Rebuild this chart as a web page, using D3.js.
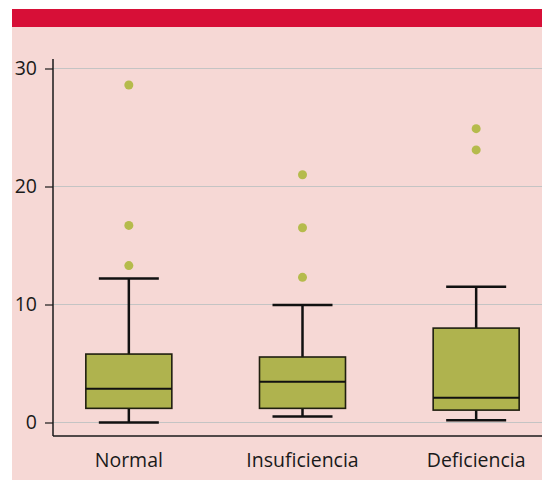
<!DOCTYPE html>
<html>
<head>
<meta charset="utf-8">
<script src="https://cdn.jsdelivr.net/npm/d3@7"></script>
<style>
  body { margin: 0; background: #fff; }
  svg text { font-family: "Open Sans", "Lato", sans-serif; fill: #1a1a1a; }
</style>
</head>
<body>
<div id="chart"></div>
<script>

// categories and box statistics
const categories = ["Normal", "Insuficiencia", "Deficiencia"];
const whiskerLow = [0, 0.5, 0.2];
const q1 = [1.2, 1.2, 1.05];
const medians = [2.85, 3.45, 2.1];
const q3 = [5.8, 5.55, 8.0];
const whiskerHigh = [12.2, 9.95, 11.5];
const outliers = [
    [13.3, 16.7, 28.6],
    [12.3, 16.5, 21.0],
    [23.1, 24.9]
];
const yTicks = [0, 10, 20, 30];

const W = 542, H = 480;

const svg = d3.select("#chart").append("svg")
    .attr("width", W)
    .attr("height", H);

// pink panel + red header bar
svg.append("rect")
    .attr("x", 12).attr("y", 9)
    .attr("width", W - 12).attr("height", H - 9)
    .attr("fill", "#f6d8d5");

svg.append("rect")
    .attr("x", 12).attr("y", 9)
    .attr("width", W - 12).attr("height", 18)
    .attr("fill", "#d70f37");

const margin = { left: 53, right: 0, top: 60, bottom: 44 };

const x = d3.scaleBand()
    .domain(categories)
    .range([42, 563])
    .paddingInner(0)
    .paddingOuter(0);

const y = d3.scaleLinear()
    .domain([0, 30])
    .range([422.5, 68.5]);

// gridlines
svg.append("g")
    .selectAll("line")
    .data(yTicks)
    .enter()
    .append("line")
    .attr("x1", margin.left)
    .attr("x2", W)
    .attr("y1", d => y(d))
    .attr("y2", d => y(d))
    .attr("stroke", "#c4c4c4")
    .attr("stroke-width", 1);

// y axis
const yAxis = d3.axisLeft(y)
    .tickValues(yTicks)
    .tickSize(8)
    .tickPadding(6);

const yg = svg.append("g")
    .attr("transform", "translate(" + margin.left + ",0)")
    .call(yAxis);

yg.select(".domain").remove();
yg.selectAll(".tick line").attr("stroke", "#1a1a1a").attr("stroke-width", 1.2);
yg.selectAll(".tick text")
    .attr("font-size", 19.5)
    .attr("fill", "#1a1a1a")
    .attr("x", -16)
    .attr("dy", "0.3em");

svg.append("line")
    .attr("x1", margin.left).attr("x2", margin.left)
    .attr("y1", 59).attr("y2", 436)
    .attr("stroke", "#1a1a1a")
    .attr("stroke-width", 1.5);

svg.append("line")
    .attr("x1", margin.left).attr("x2", W)
    .attr("y1", 436).attr("y2", 436)
    .attr("stroke", "#1a1a1a")
    .attr("stroke-width", 1.5);

// x labels
svg.append("g")
    .selectAll("text")
    .data(categories)
    .enter()
    .append("text")
    .attr("x", d => x(d) + x.bandwidth() / 2)
    .attr("y", 467)
    .attr("text-anchor", "middle")
    .attr("font-size", 19.5)
    .text(d => d);

const boxW = 86, capW = 60;

const groups = svg.append("g")
    .selectAll("g.box")
    .data(categories)
    .enter()
    .append("g")
    .attr("class", "box")
    .attr("transform", d => "translate(" + (x(d) + x.bandwidth() / 2) + ",0)");

// whisker stems
groups.append("line")
    .attr("x1", 0).attr("x2", 0)
    .attr("y1", (d, i) => y(whiskerLow[i]))
    .attr("y2", (d, i) => y(whiskerHigh[i]))
    .attr("stroke", "#111")
    .attr("stroke-width", 2.5);

// caps
[whiskerLow, whiskerHigh].forEach(arr => {
    groups.append("line")
        .attr("x1", -capW / 2).attr("x2", capW / 2)
        .attr("y1", (d, i) => y(arr[i]))
        .attr("y2", (d, i) => y(arr[i]))
        .attr("stroke", "#111")
        .attr("stroke-width", 2.5);
});

// boxes
groups.append("rect")
    .attr("x", -boxW / 2)
    .attr("width", boxW)
    .attr("y", (d, i) => y(q3[i]))
    .attr("height", (d, i) => y(q1[i]) - y(q3[i]))
    .attr("fill", "#afb34e")
    .attr("stroke", "#1f1f10")
    .attr("stroke-width", 1.6);

// medians
groups.append("line")
    .attr("x1", -boxW / 2).attr("x2", boxW / 2)
    .attr("y1", (d, i) => y(medians[i]))
    .attr("y2", (d, i) => y(medians[i]))
    .attr("stroke", "#111")
    .attr("stroke-width", 2);

// outliers
groups.each(function (d, i) {
    d3.select(this).selectAll("circle")
        .data(outliers[i])
        .enter()
        .append("circle")
        .attr("cx", 0)
        .attr("cy", v => y(v))
        .attr("r", 4.5)
        .attr("fill", "#b5bb4c");
});

</script>
</body>
</html>
